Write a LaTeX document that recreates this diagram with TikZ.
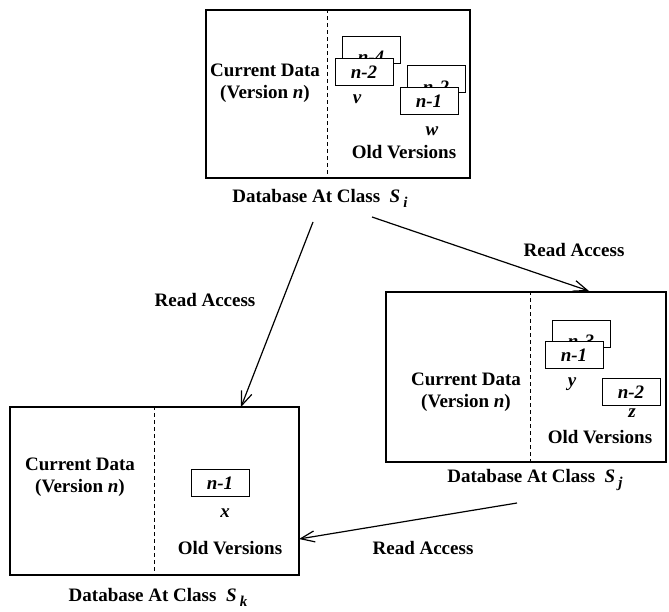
\documentclass[tikz,border=0pt]{standalone}
\usepackage{fontspec}
\setmainfont{Liberation Serif}
\usetikzlibrary{arrows.meta}
\newcommand{\txtsize}{\fontsize{19}{22}\selectfont}
\newcommand{\subsc}[2]{\textit{#1}\,\raisebox{-5pt}{\fontsize{15}{15}\selectfont\textit{#2}}}
\begin{document}
\begin{tikzpicture}[x=1pt,y=-1pt,
  dbbox/.style={draw,line width=1.1pt,inner sep=0pt},
  divider/.style={line width=0.9pt,dash pattern=on 4pt off 3pt},
  verbox/.style={draw,line width=0.9pt,fill=white,minimum width=58pt,minimum height=27pt,inner sep=0pt,
                 font=\txtsize\bfseries\itshape},
  vertext/.style={font=\txtsize\bfseries\itshape,inner sep=0pt},
  txt/.style={font=\txtsize\bfseries,align=center,inner sep=0pt},
  vname/.style={font=\txtsize\bfseries\itshape,inner sep=0pt},
  access/.style={line width=1.2pt,-{Straight Barb[length=14pt,width=11pt,line width=1.2pt]}}
]
\useasboundingbox (0,0) rectangle (669,612);

% ---------- database at class S_i ----------
\node[dbbox,minimum width=264pt,minimum height=168pt] (Si) at (338,94) {};
\coordinate (xi) at (327,0);
\draw[divider] (Si.north -| xi) -- (Si.south -| xi);
\node[txt] (curI) at (265,83) {Current Data\\(Version \textit{n})};
\node[verbox] (i4) at (371,50) {};
\node[vertext] (i4t) at (371,57) {n-4};
\node[verbox] (i2) at (364,72) {n-2};
\node[vname] (v) at (357,99) {v};
\node[verbox] (i2b) at (436,79) {};
\node[vertext] (i2bt) at (436,87) {n-2};
\node[verbox] (i1) at (429,101) {n-1};
\node[vname] (w) at (432,131) {w};
\node[txt] (oldI) at (404,152) {Old Versions};
\node[txt] (capI) at (320,198) {Database At Class\enspace\subsc{S}{i}};

% ---------- database at class S_j ----------
\node[dbbox,minimum width=280pt,minimum height=170pt] (Sj) at (526,377) {};
\coordinate (xj) at (530,0);
\draw[divider] (Sj.north -| xj) -- (Sj.south -| xj);
\node[txt] (curJ) at (466,392) {Current Data\\(Version \textit{n})};
\node[verbox] (j3) at (581,334) {};
\node[vertext] (j3t) at (581,341) {n-3};
\node[verbox] (j1) at (574,355) {n-1};
\node[vname] (y) at (572,384) {y};
\node[verbox] (j2) at (631,392) {n-2};
\node[vname] (z) at (632,413) {z};
\node[txt] (oldJ) at (600,437) {Old Versions};
\node[txt] (capJ) at (535,480) {Database At Class\enspace\subsc{S}{j}};

% ---------- database at class S_k ----------
\node[dbbox,minimum width=289pt,minimum height=168pt] (Sk) at (154.5,491) {};
\coordinate (xk) at (154,0);
\draw[divider] (Sk.north -| xk) -- (Sk.south -| xk);
\node[txt] (curK) at (80,477) {Current Data\\(Version \textit{n})};
\node[verbox] (k1) at (220,483) {n-1};
\node[vname] (x) at (225,513) {x};
\node[txt] (oldK) at (230,548) {Old Versions};
\node[txt] (capK) at (158,597) {Database At Class\enspace\subsc{S}{k}};

% ---------- read access arrows ----------
\coordinate (fromIk) at (313,222);
\coordinate (toK) at (241,407);
\coordinate (fromIj) at (372,217);
\coordinate (toJ) at (589,291);
\coordinate (fromJk) at (517,503);
\coordinate (toKr) at (299,539);
\draw[access] (fromIk) -- (toK);
\draw[access] (fromIj) -- (toJ);
\draw[access] (fromJk) -- (toKr);
\node[txt] (raL) at (205,300) {Read Access};
\node[txt] (raR) at (574,250) {Read Access};
\node[txt] (raB) at (423,548) {Read Access};
\end{tikzpicture}
\end{document}
